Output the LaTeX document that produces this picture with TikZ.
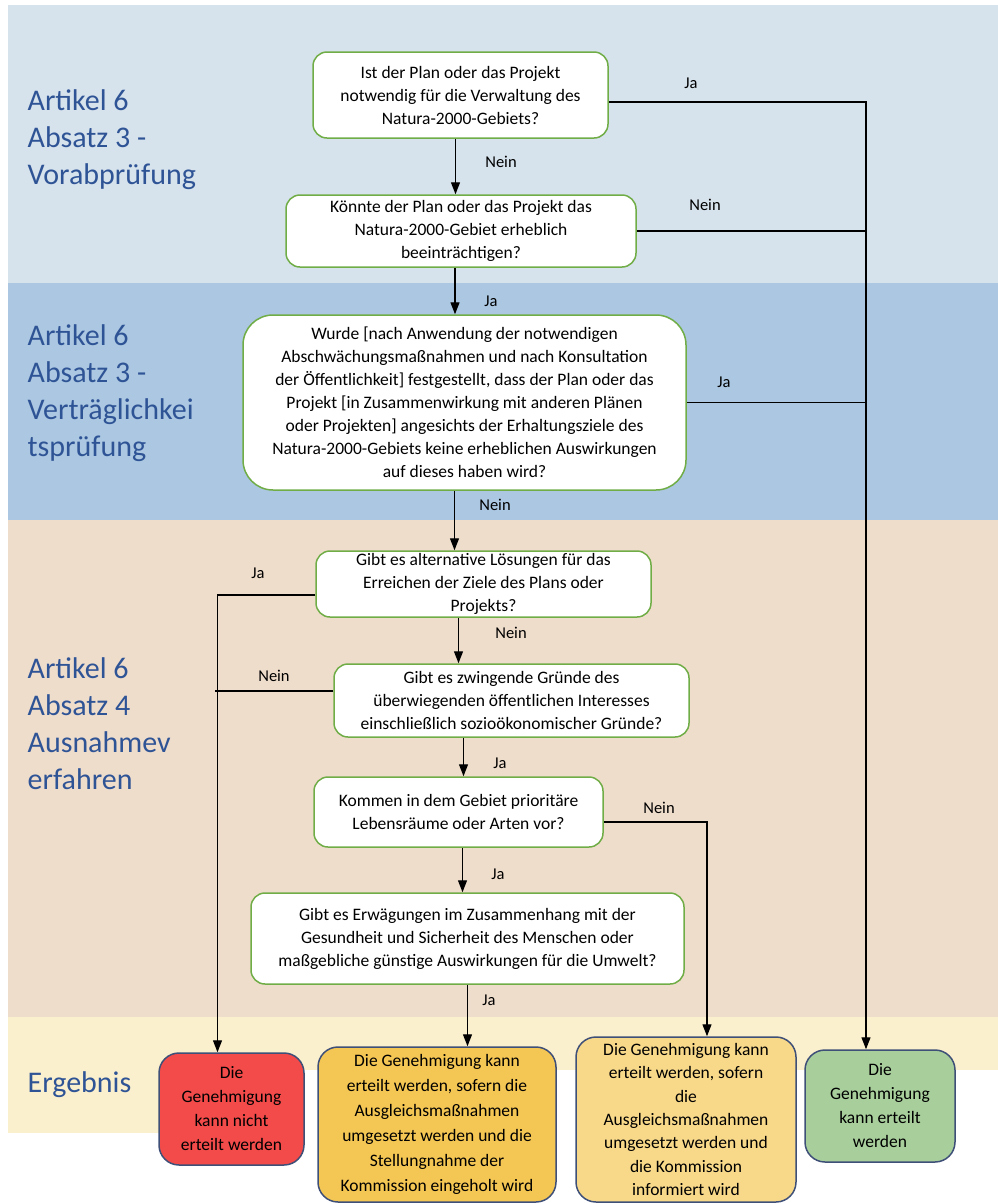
\documentclass[tikz,border=0pt]{standalone}
\usepackage{fontspec}
\setmainfont{Carlito}
\usepackage{tikz}
\usetikzlibrary{arrows.meta,positioning,calc}
\definecolor{bandA}{HTML}{D6E2EC}
\definecolor{bandB}{HTML}{ABC7E1}
\definecolor{bandC}{HTML}{EFDDCC}
\definecolor{bandD}{HTML}{FBF0CD}
\definecolor{rahmengruen}{HTML}{70AD47}
\definecolor{rahmenblau}{HTML}{3E4F78}
\definecolor{titelblau}{HTML}{2F5496}
\definecolor{rot}{HTML}{F34A4A}
\definecolor{orange}{HTML}{F4C653}
\definecolor{gelb}{HTML}{F8D98A}
\definecolor{gruen}{HTML}{A8CE9C}
\tikzset{every picture/.style={line width=1.3pt}}

\begin{document}
\begin{tikzpicture}[x=1pt, y=-1pt, >={Triangle[length=12pt,width=9pt]},
    frage/.style={draw=rahmengruen, fill=white, rounded corners=14pt, line width=1.5pt,
        align=center, inner sep=0pt, font=\fontsize{17.5}{23}\selectfont},
    ergebnis/.style={draw=rahmenblau, rounded corners=20pt, line width=1.5pt,
        align=center, inner sep=0pt, font=\fontsize{17.5}{24}\selectfont},
    abschnitt/.style={anchor=west, align=left, inner sep=0pt, text=titelblau,
        font=\fontsize{30}{37}\selectfont},
    marke/.style={font=\fontsize{16.5}{20}\selectfont}]
    \useasboundingbox (0,0) rectangle (998,1203);

    % Hintergrund
    \fill[bandA] (8,5) rectangle (998,283);
    \fill[bandB] (8,283) rectangle (998,520);
    \fill[bandC] (8,520) rectangle (998,1017);
    \fill[bandD] (8,1017) rectangle (998,1070);
    \fill[bandD] (8,1070) rectangle (230,1133);

    % Abschnitte
    \node[abschnitt] (s1) at (27,140) {Artikel 6\\Absatz 3 -\\Vorabprüfung};
    \node[abschnitt] (s2) at (27,393) {Artikel 6\\Absatz 3 -\\Verträglichkei\\tsprüfung};
    \node[abschnitt] (s3) at (27,724) {Artikel 6\\Absatz 4\\Ausnahmev\\erfahren};
    \node[abschnitt] (s4) at (27,1085) {Ergebnis};

    % Fragen
    \node[frage, minimum width=295pt, minimum height=86pt] (f1) at (460.5,95)
        {Ist der Plan oder das Projekt\\notwendig für die Verwaltung des\\Natura-2000-Gebiets?};
    \node[frage, minimum width=350pt, minimum height=72pt] (f2) at (461,231)
        {Könnte der Plan oder das Projekt das\\Natura-2000-Gebiet erheblich\\beeinträchtigen?};
    \node[frage, minimum width=443pt, minimum height=175pt, rounded corners=30pt] (f3) at (464.5,402.5)
        {Wurde [nach Anwendung der notwendigen\\Abschwächungsmaßnahmen und nach Konsultation\\der Öffentlichkeit] festgestellt, dass der Plan oder das\\Projekt [in Zusammenwirkung mit anderen Plänen\\oder Projekten] angesichts der Erhaltungsziele des\\Natura-2000-Gebiets keine erheblichen Auswirkungen\\auf dieses haben wird?};
    \node[frage, minimum width=335pt, minimum height=66pt] (f4) at (483.5,584)
        {Gibt es alternative Lösungen für das\\Erreichen der Ziele des Plans oder\\Projekts?};
    \node[frage, minimum width=355pt, minimum height=73pt] (f5) at (511.5,700.5)
        {Gibt es zwingende Gründe des\\überwiegenden öffentlichen Interesses\\einschließlich sozioökonomischer Gründe?};
    \node[frage, minimum width=289pt, minimum height=70pt] (f6) at (458.5,812)
        {Kommen in dem Gebiet prioritäre\\Lebensräume oder Arten vor?};
    \node[frage, minimum width=433pt, minimum height=91pt] (f7) at (467.5,938.5)
        {Gibt es Erwägungen im Zusammenhang mit der\\Gesundheit und Sicherheit des Menschen oder\\maßgebliche günstige Auswirkungen für die Umwelt?};

    % Ergebnisse
    \node[ergebnis, fill=rot, minimum width=145pt, minimum height=112pt] (r1) at (231.5,1109)
        {Die\\Genehmigung\\kann nicht\\erteilt werden};
    \node[ergebnis, fill=orange, minimum width=238pt, minimum height=155pt,
        font=\fontsize{17.5}{25}\selectfont] (r2) at (437,1124.5)
        {Die Genehmigung kann\\erteilt werden, sofern die\\Ausgleichsmaßnahmen\\umgesetzt werden und die\\Stellungnahme der\\Kommission eingeholt wird};
    \node[ergebnis, fill=gelb, minimum width=220pt, minimum height=165pt,
        font=\fontsize{17.5}{23.3}\selectfont] (r3) at (686,1119.5)
        {Die Genehmigung kann\\erteilt werden, sofern\\die\\Ausgleichsmaßnahmen\\umgesetzt werden und\\die Kommission\\informiert wird};
    \node[ergebnis, fill=gruen, minimum width=150pt, minimum height=112pt] (r4) at (880,1106)
        {Die\\Genehmigung\\kann erteilt\\werden};

    % Pfeile
    \draw[->] ([xshift=-5pt]f1.south) -- ([xshift=-5pt]f1.south |- f2.north);
    \draw[->] ([xshift=-6pt]f2.south) -- ([xshift=-6pt]f2.south |- f3.north);
    \draw[->] ([xshift=-10pt]f3.south) -- ([xshift=-10pt]f3.south |- f4.north);
    \draw[->] ([xshift=-25pt]f4.south) -- ([xshift=-25pt]f4.south |- f5.north);
    \draw[->] ([xshift=-48pt]f5.south) -- ([xshift=-48pt]f5.south |- f6.north);
    \draw[->] ([xshift=4pt]f6.south) -- ([xshift=4pt]f6.south |- f7.north);
    \draw[->] (f7.south) -- (f7.south |- r2.north);

    \draw[->] ([yshift=-7pt]f1.east) -| ([xshift=-14pt]r4.north);
    \draw (f2.east) -- +(230,0);
    \draw (f3.east) -- +(180,0);
    \draw[->] ([yshift=-11pt]f4.west) -| ([xshift=-14pt]r1.north);
    \draw ([yshift=9.5pt]f5.west) -- +(-118,0);
    \draw[->] ([yshift=-10pt]f6.east) -| ([xshift=21pt]r3.north);

    % Beschriftungen
    \node[marke] (m1) at (691,83) {Ja};
    \node[marke] (m2) at (501,162) {Nein};
    \node[marke] (m3) at (705,205) {Nein};
    \node[marke] (m4) at (491,301) {Ja};
    \node[marke] (m5) at (724,382) {Ja};
    \node[marke] (m6) at (495,505) {Nein};
    \node[marke] (m7) at (258,573) {Ja};
    \node[marke] (m8) at (511,633) {Nein};
    \node[marke] (m9) at (274,676) {Nein};
    \node[marke] (m10) at (500,763) {Ja};
    \node[marke] (m11) at (659,808) {Nein};
    \node[marke] (m12) at (498,874) {Ja};
    \node[marke] (m13) at (489,1000) {Ja};
\end{tikzpicture}
\end{document}
